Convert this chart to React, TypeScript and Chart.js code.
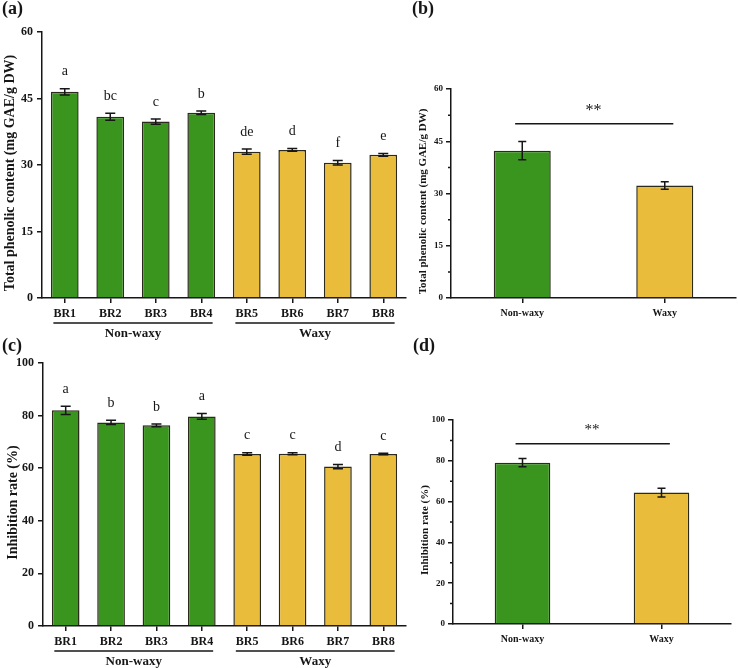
import React, { useEffect, useRef } from "react";
import { Chart, registerables } from "chart.js";

Chart.register(...registerables);

// ---- data ----
const cultivars = ["BR1", "BR2", "BR3", "BR4", "BR5", "BR6", "BR7", "BR8"];
const cultivarGroup = [0, 0, 0, 0, 1, 1, 1, 1];
const groups = ["Non-waxy", "Waxy"];

const phenolic = [46.5, 40.9, 39.8, 41.8, 33.0, 33.4, 30.5, 32.3];
const phenolicErr = [0.7, 0.8, 0.6, 0.4, 0.6, 0.3, 0.5, 0.3];
const phenolicLetters = ["a", "bc", "c", "b", "de", "d", "f", "e"];

const inhibition = [82.0, 77.4, 76.3, 79.7, 65.4, 65.5, 60.6, 65.4];
const inhibitionErr = [1.6, 0.8, 0.5, 1.1, 0.5, 0.4, 0.8, 0.3];
const inhibitionLetters = ["a", "b", "b", "a", "c", "c", "d", "c"];

const groupPhenolic = [42.3, 32.3];
const groupPhenolicErr = [2.6, 1.1];
const groupInhibition = [79.1, 64.4];
const groupInhibitionErr = [2.0, 2.1];

const phenolicTicks = [0, 15, 30, 45, 60];
const inhibitionTicks = [0, 20, 40, 60, 80, 100];

// significance bracket: [bar level, star level]
const phenolicSig = [50, 55];
const inhibitionSig = [88.4, 96.7];

// ---- styling ----
const SERIF = "'Liberation Serif', 'Times New Roman', Times, serif";
const GREEN = "#3a951f";
const YELLOW = "#e9bd3b";
const EDGE = "#2b2a1c";
const INK = "#161616";
const groupColors = [GREEN, YELLOW];

type PanelSpec = {
  box: [number, number, number, number];
  area: [number, number, number, number];
  labels: string[];
  values: number[];
  errors: number[];
  colors: string[];
  barFrac: number;
  ticks: number[];
  minor: boolean;
  tickSize: number;
  tickPad: number;
  xTickSize: number;
  title: string;
  titleSize: number;
  titleX: number;
  panel: string;
  panelPos: [number, number];
  letters?: string[];
  grouped?: boolean;
  sig?: number[];
  starSize?: number;
  cap: number;
};

function extrasPlugin(spec: PanelSpec) {
  return {
    id: "panelExtras",
    afterDatasetsDraw(chart: any) {
      const ctx: CanvasRenderingContext2D = chart.ctx;
      const xs = chart.scales.x;
      const ys = chart.scales.y;
      const ca = chart.chartArea;
      const meta = chart.getDatasetMeta(0);
      const [bx0, by0] = spec.box;
      ctx.save();

      // error bars
      ctx.strokeStyle = INK;
      ctx.lineWidth = 1.5;
      spec.values.forEach((v, i) => {
        const cx = meta.data[i].x;
        const yt = ys.getPixelForValue(v + spec.errors[i]);
        const yb = ys.getPixelForValue(v - spec.errors[i]);
        ctx.beginPath();
        ctx.moveTo(cx, yt);
        ctx.lineTo(cx, yb);
        ctx.moveTo(cx - spec.cap, yt);
        ctx.lineTo(cx + spec.cap, yt);
        ctx.moveTo(cx - spec.cap, yb);
        ctx.lineTo(cx + spec.cap, yb);
        ctx.stroke();
      });

      // minor ticks between major ones
      if (spec.minor) {
        ctx.beginPath();
        for (let k = 0; k < spec.ticks.length - 1; k++) {
          const mid = (spec.ticks[k] + spec.ticks[k + 1]) / 2;
          const py = ys.getPixelForValue(mid);
          ctx.moveTo(ca.left, py);
          ctx.lineTo(ca.left - 3, py);
        }
        ctx.stroke();
      }

      // significance letters
      if (spec.letters) {
        ctx.fillStyle = INK;
        ctx.font = `14px ${SERIF}`;
        ctx.textAlign = "center";
        ctx.textBaseline = "middle";
        spec.letters.forEach((t, i) => {
          const cx = meta.data[i].x;
          const yt = ys.getPixelForValue(spec.values[i] + spec.errors[i]);
          ctx.fillText(t, cx, yt - 17);
        });
      }

      // group brackets under the category labels
      if (spec.grouped) {
        ctx.fillStyle = INK;
        ctx.font = `bold 13px ${SERIF}`;
        ctx.textAlign = "center";
        ctx.textBaseline = "middle";
        groups.forEach((g, gi) => {
          const idx = cultivarGroup
            .map((c, i) => (c === gi ? i : -1))
            .filter((i) => i >= 0);
          const a = xs.getPixelForValue(idx[0] - 0.25);
          const b = xs.getPixelForValue(idx[idx.length - 1] + 0.25);
          ctx.beginPath();
          ctx.moveTo(a, ca.bottom + 25);
          ctx.lineTo(b, ca.bottom + 25);
          ctx.stroke();
          const mid =
            (xs.getPixelForValue(idx[0]) + xs.getPixelForValue(idx[idx.length - 1])) / 2;
          ctx.fillText(g, mid, ca.bottom + 36);
        });
      }

      // significance bar between the two groups
      if (spec.sig) {
        const ly = ys.getPixelForValue(spec.sig[0]);
        ctx.beginPath();
        ctx.moveTo(xs.getPixelForValue(-0.05), ly);
        ctx.lineTo(xs.getPixelForValue(1.06), ly);
        ctx.stroke();
        const fs = spec.starSize || 16;
        ctx.fillStyle = INK;
        ctx.font = `${fs}px ${SERIF}`;
        ctx.textAlign = "center";
        ctx.textBaseline = "middle";
        const sy = ys.getPixelForValue(spec.sig[1]) + fs * 0.25;
        ctx.fillText("**", (xs.getPixelForValue(0) + xs.getPixelForValue(1)) / 2, sy);
      }

      // y-axis title
      ctx.save();
      ctx.fillStyle = INK;
      ctx.font = `bold ${spec.titleSize}px ${SERIF}`;
      ctx.textAlign = "center";
      ctx.textBaseline = "middle";
      ctx.translate(spec.titleX - bx0, (ca.top + ca.bottom) / 2 + 8);
      ctx.rotate(-Math.PI / 2);
      ctx.fillText(spec.title, 0, 0);
      ctx.restore();

      // panel tag
      ctx.fillStyle = INK;
      ctx.font = `bold 18px ${SERIF}`;
      ctx.textAlign = "left";
      ctx.textBaseline = "middle";
      ctx.fillText(spec.panel, spec.panelPos[0] - bx0, spec.panelPos[1] - by0);

      ctx.restore();
    },
  };
}

function Panel({ spec }: { spec: PanelSpec }) {
  const ref = useRef<HTMLCanvasElement | null>(null);
  useEffect(() => {
    if (!ref.current) return;
    const [x0, y0, w, h] = spec.box;
    const [l, t, r, b] = spec.area;
    const chart = new Chart(ref.current, {
      type: "bar",
      data: {
        labels: spec.labels,
        datasets: [
          {
            data: spec.values,
            backgroundColor: spec.colors,
            borderColor: EDGE,
            borderWidth: 1.5,
            barPercentage: spec.barFrac,
            categoryPercentage: 1,
          },
        ],
      },
      options: {
        responsive: false,
        animation: false,
        events: [],
        layout: { padding: { left: 0, top: t - y0, right: x0 + w - r, bottom: 0 } },
        plugins: { legend: { display: false }, tooltip: { enabled: false } },
        scales: {
          x: {
            type: "category",
            offset: true,
            border: { display: true, color: INK, width: 1.5 },
            grid: {
              display: true,
              drawOnChartArea: false,
              drawTicks: true,
              offset: false,
              tickLength: 5,
              color: INK,
              lineWidth: 1.5,
            },
            ticks: {
              color: INK,
              padding: 4,
              maxRotation: 0,
              autoSkip: false,
              font: { family: SERIF, size: spec.xTickSize, weight: "bold" },
            },
            afterFit: (s: any) => {
              s.height = y0 + h - b;
            },
          },
          y: {
            min: spec.ticks[0],
            max: spec.ticks[spec.ticks.length - 1],
            border: { display: true, color: INK, width: 1.5 },
            grid: {
              display: true,
              drawOnChartArea: false,
              drawTicks: true,
              tickLength: 5,
              color: INK,
              lineWidth: 1.5,
            },
            ticks: {
              color: INK,
              padding: spec.tickPad,
              font: { family: SERIF, size: spec.tickSize, weight: "bold" },
            },
            afterBuildTicks: (s: any) => {
              s.ticks = spec.ticks.map((v) => ({ value: v }));
            },
            afterFit: (s: any) => {
              s.width = l - x0;
            },
          },
        },
      } as any,
      plugins: [extrasPlugin(spec)],
    });
    return () => chart.destroy();
  }, [spec]);
  const [x0, y0, w, h] = spec.box;
  return (
    <canvas
      ref={ref}
      width={w}
      height={h}
      style={{ position: "absolute", left: x0, top: y0, width: w, height: h }}
    />
  );
}

const panels: PanelSpec[] = [
  {
    box: [0, 0, 410, 345],
    area: [42, 32, 406, 298],
    labels: cultivars,
    values: phenolic,
    errors: phenolicErr,
    colors: cultivarGroup.map((g) => groupColors[g]),
    barFrac: 0.61,
    ticks: phenolicTicks,
    minor: false,
    tickSize: 12,
    tickPad: 4,
    xTickSize: 12,
    title: "Total phenolic content (mg GAE/g DW)",
    titleSize: 14,
    titleX: 10,
    panel: "(a)",
    panelPos: [2, 9],
    letters: phenolicLetters,
    grouped: true,
    cap: 5,
  },
  {
    box: [405, 0, 333, 345],
    area: [451, 89, 736, 298],
    labels: groups,
    values: groupPhenolic,
    errors: groupPhenolicErr,
    colors: groupColors,
    barFrac: 0.4,
    ticks: phenolicTicks,
    minor: true,
    tickSize: 9,
    tickPad: 3,
    xTickSize: 10,
    title: "Total phenolic content (mg GAE/g DW)",
    titleSize: 11,
    titleX: 423,
    panel: "(b)",
    panelPos: [412, 9],
    sig: phenolicSig,
    starSize: 16,
    cap: 4,
  },
  {
    box: [0, 335, 410, 333],
    area: [43, 363, 406, 626],
    labels: cultivars,
    values: inhibition,
    errors: inhibitionErr,
    colors: cultivarGroup.map((g) => groupColors[g]),
    barFrac: 0.61,
    ticks: inhibitionTicks,
    minor: false,
    tickSize: 12,
    tickPad: 4,
    xTickSize: 12,
    title: "Inhibition rate (%)",
    titleSize: 14,
    titleX: 13,
    panel: "(c)",
    panelPos: [2, 346],
    letters: inhibitionLetters,
    grouped: true,
    cap: 5,
  },
  {
    box: [405, 335, 333, 333],
    area: [453, 420, 731, 624],
    labels: groups,
    values: groupInhibition,
    errors: groupInhibitionErr,
    colors: groupColors,
    barFrac: 0.4,
    ticks: inhibitionTicks,
    minor: true,
    tickSize: 9,
    tickPad: 3,
    xTickSize: 10,
    title: "Inhibition rate (%)",
    titleSize: 11,
    titleX: 425,
    panel: "(d)",
    panelPos: [413, 346],
    sig: inhibitionSig,
    starSize: 15,
    cap: 4,
  },
];

export default function App() {
  return (
    <div
      style={{
        position: "absolute",
        left: 0,
        top: 0,
        width: 738,
        height: 668,
        background: "#ffffff",
        overflow: "hidden",
      }}
    >
      {panels.map((p) => (
        <Panel key={p.panel} spec={p} />
      ))}
    </div>
  );
}
